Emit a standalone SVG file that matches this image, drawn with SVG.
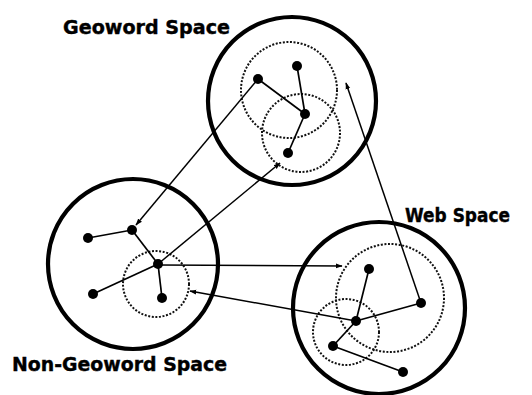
<svg xmlns="http://www.w3.org/2000/svg" width="532" height="395" viewBox="0 0 532 395">
<style>
.space{fill:none;stroke:#000;stroke-width:4.2}
.sub{fill:none;stroke:#111;stroke-width:2;stroke-dasharray:2 1.6}
.node{fill:#000}
.edge{stroke:#000;stroke-width:1.7;fill:none}
.arrow{stroke:#000;stroke-width:1.5;fill:none;marker-end:url(#ah)}
.label{font-family:"DejaVu Sans",Verdana,sans-serif;font-weight:bold;font-size:19px;fill:#000;stroke:#000;stroke-width:0.4}
</style>
<defs>
<marker id="ah" viewBox="0 0 10 10" refX="9" refY="5" markerWidth="7" markerHeight="7" markerUnits="userSpaceOnUse" orient="auto">
<path d="M0,1.5 L10,5 L0,8.5 Z" fill="#000"/>
</marker>
</defs>
<rect width="532" height="395" fill="#fff"/>

<g id="geoword-space">
<circle class="space" cx="292" cy="101" r="84"/>
<circle class="sub" cx="289" cy="90" r="48"/>
<circle class="sub" cx="301" cy="133" r="39"/>
<line class="edge" x1="258" y1="79" x2="305" y2="114"/>
<line class="edge" x1="297" y1="66" x2="305" y2="114"/>
<line class="edge" x1="305" y1="114" x2="288" y2="153"/>
<circle class="node" cx="258" cy="79" r="5"/>
<circle class="node" cx="297" cy="66" r="5"/>
<circle class="node" cx="305" cy="114" r="5"/>
<circle class="node" cx="288" cy="153" r="5"/>
<text class="label" x="63" y="34" textLength="167" lengthAdjust="spacingAndGlyphs">Geoword Space</text>
</g>

<g id="non-geoword-space">
<circle class="space" cx="133" cy="264" r="85"/>
<circle class="sub" cx="156" cy="284" r="33"/>
<line class="edge" x1="88" y1="238" x2="132" y2="230"/>
<line class="edge" x1="132" y1="230" x2="158" y2="264"/>
<line class="edge" x1="158" y1="264" x2="162" y2="298"/>
<line class="edge" x1="93" y1="294" x2="158" y2="264"/>
<circle class="node" cx="88" cy="238" r="5"/>
<circle class="node" cx="132" cy="230" r="5"/>
<circle class="node" cx="158" cy="264" r="5"/>
<circle class="node" cx="162" cy="298" r="5"/>
<circle class="node" cx="93" cy="294" r="5"/>
<text class="label" x="12" y="371" textLength="215" lengthAdjust="spacingAndGlyphs">Non-Geoword Space</text>
</g>

<g id="web-space">
<circle class="space" cx="379" cy="308" r="86"/>
<circle class="sub" cx="390" cy="298" r="54"/>
<circle class="sub" cx="346" cy="332" r="33"/>
<line class="edge" x1="369" y1="269" x2="356" y2="321"/>
<line class="edge" x1="356" y1="321" x2="421" y2="303"/>
<line class="edge" x1="356" y1="321" x2="333" y2="346"/>
<line class="edge" x1="333" y1="346" x2="403" y2="372"/>
<circle class="node" cx="369" cy="269" r="5"/>
<circle class="node" cx="356" cy="321" r="5"/>
<circle class="node" cx="333" cy="346" r="5"/>
<circle class="node" cx="403" cy="372" r="5"/>
<circle class="node" cx="421" cy="303" r="5"/>
<text class="label" x="405" y="222" textLength="105" lengthAdjust="spacingAndGlyphs">Web Space</text>
</g>

<g id="connectors">
<line class="arrow" x1="258" y1="79" x2="136" y2="225"/>
<line class="arrow" x1="158" y1="264" x2="280" y2="163"/>
<line class="arrow" x1="421" y1="303" x2="346" y2="83"/>
<line class="arrow" x1="158" y1="265" x2="342" y2="266"/>
<line class="arrow" x1="356" y1="321" x2="190" y2="291"/>
</g>
</svg>
